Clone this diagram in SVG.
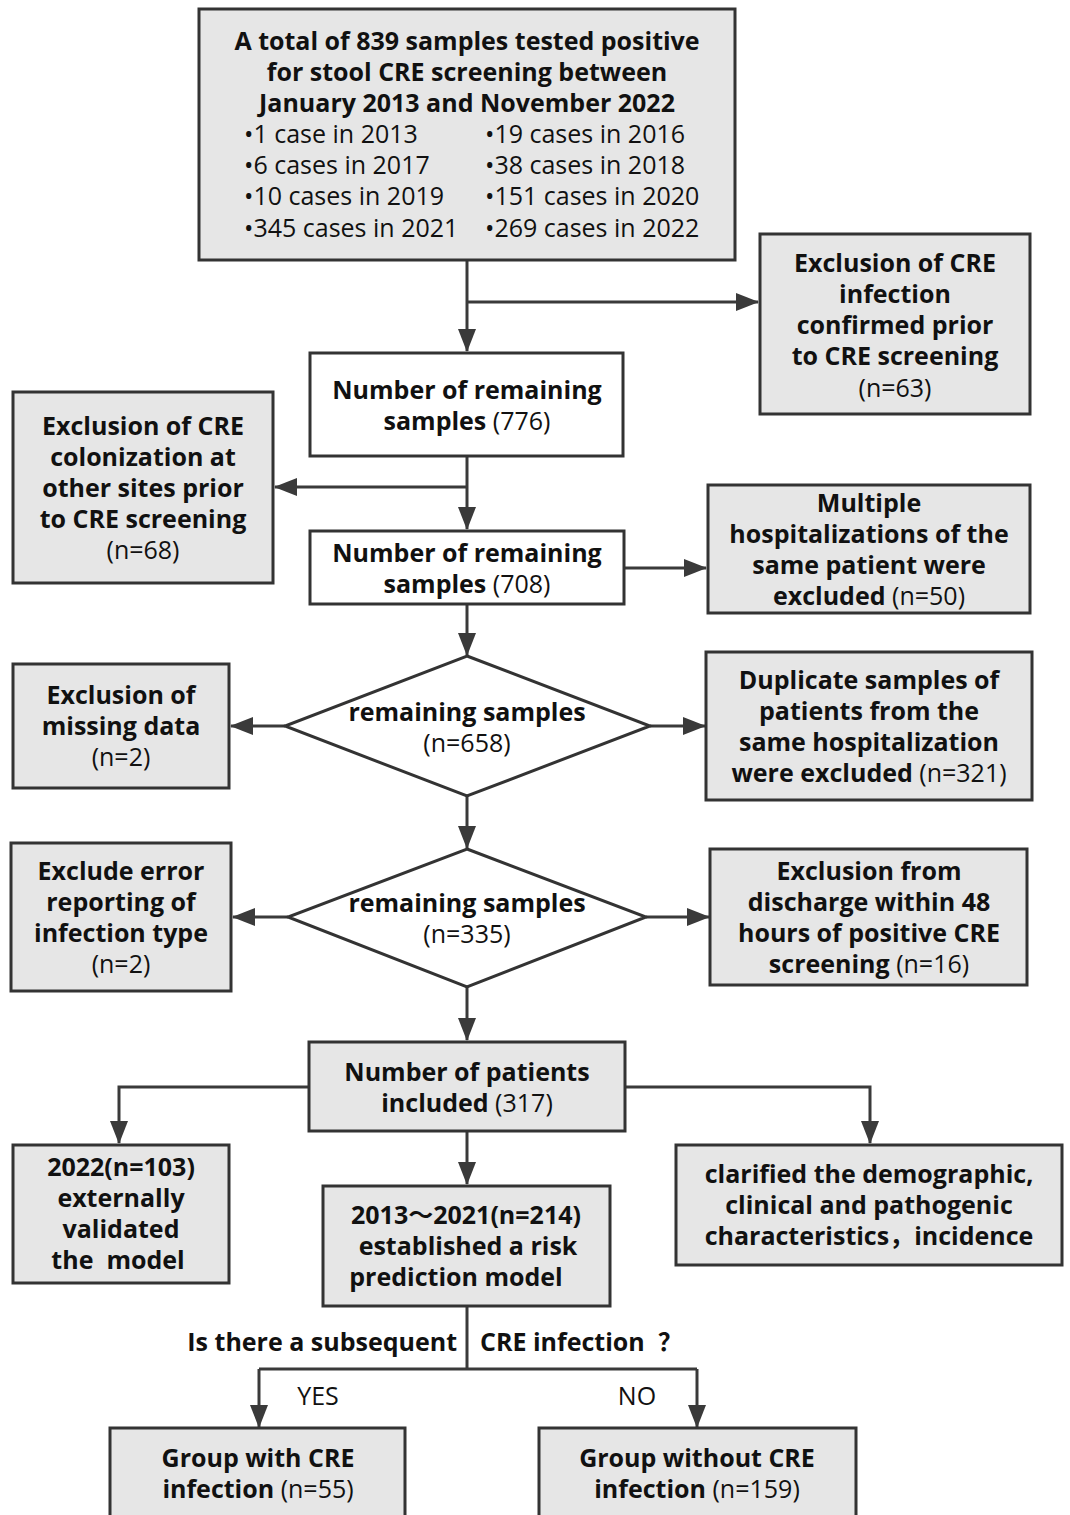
<svg xmlns="http://www.w3.org/2000/svg" width="1070" height="1515" viewBox="0 0 1070 1515">
<defs>
<marker id="ah" markerUnits="userSpaceOnUse" markerWidth="24" markerHeight="20" viewBox="0 0 24 20" refX="22" refY="10" orient="auto">
<path d="M0,1 L23,10 L0,19 Z" fill="#3a3a3a"/>
</marker>
<style>
text{font-family:"Open Sans","Noto Sans","Noto Sans CJK SC",sans-serif;font-size:25px;fill:#111;text-anchor:middle}
.b{font-weight:bold}
.r{font-weight:normal}
.l{text-anchor:start}
.g{fill:#e6e6e6;stroke:#333;stroke-width:3}
.w{fill:#fff;stroke:#333;stroke-width:3}
.c{fill:none;stroke:#3a3a3a;stroke-width:3}
</style>
</defs>
<rect width="1070" height="1515" fill="#fff"/>
<g id="connectors">
<path class="c" d="M467,260 V351" marker-end="url(#ah)"/>
<path class="c" d="M467,302 H758" marker-end="url(#ah)"/>
<path class="c" d="M467,456 V529" marker-end="url(#ah)"/>
<path class="c" d="M467,487 H275" marker-end="url(#ah)"/>
<path class="c" d="M624,568 H706" marker-end="url(#ah)"/>
<path class="c" d="M467,604 V655" marker-end="url(#ah)"/>
<path class="c" d="M285,726 H231" marker-end="url(#ah)"/>
<path class="c" d="M650,726 H705" marker-end="url(#ah)"/>
<path class="c" d="M467,796 V848" marker-end="url(#ah)"/>
<path class="c" d="M288,917 H233" marker-end="url(#ah)"/>
<path class="c" d="M646,917 H709" marker-end="url(#ah)"/>
<path class="c" d="M467,987 V1040" marker-end="url(#ah)"/>
<path class="c" d="M309,1087 H119 V1143" marker-end="url(#ah)"/>
<path class="c" d="M625,1087 H870 V1143" marker-end="url(#ah)"/>
<path class="c" d="M467,1131 V1184" marker-end="url(#ah)"/>
<path class="c" d="M467,1306 V1369 M259,1369 H697"/>
<path class="c" d="M259,1369 V1427" marker-end="url(#ah)"/>
<path class="c" d="M697,1369 V1427" marker-end="url(#ah)"/>
</g>
<g id="n-total">
<rect class="g" x="199" y="9" width="536" height="251"/>
<text class="b" x="467" y="50">A total of 839 samples tested positive</text>
<text class="b" x="467" y="81">for stool CRE screening between</text>
<text class="b" x="467" y="112">January 2013 and November 2022</text>
<text class="l" x="244" y="143">•1 case in 2013</text>
<text class="l" x="485" y="143">•19 cases in 2016</text>
<text class="l" x="244" y="174">•6 cases in 2017</text>
<text class="l" x="485" y="174">•38 cases in 2018</text>
<text class="l" x="244" y="205">•10 cases in 2019</text>
<text class="l" x="485" y="205">•151 cases in 2020</text>
<text class="l" x="244" y="237">•345 cases in 2021</text>
<text class="l" x="485" y="237">•269 cases in 2022</text>
</g>
<g id="n-excl63">
<rect class="g" x="760" y="234" width="270" height="180"/>
<text class="b" x="895" y="272">Exclusion of CRE</text>
<text class="b" x="895" y="303">infection</text>
<text class="b" x="895" y="334">confirmed prior</text>
<text class="b" x="895" y="365">to CRE screening</text>
<text x="895" y="397">(n=63)</text>
</g>
<g id="n-776">
<rect class="w" x="310" y="353" width="313" height="103"/>
<text class="b" x="467" y="399">Number of remaining</text>
<text x="467" y="430"><tspan class="b">samples</tspan> (776)</text>
</g>
<g id="n-excl68">
<rect class="g" x="13" y="392" width="260" height="191"/>
<text class="b" x="143" y="435">Exclusion of CRE</text>
<text class="b" x="143" y="466">colonization at</text>
<text class="b" x="143" y="497">other sites prior</text>
<text class="b" x="143" y="528">to CRE screening</text>
<text x="143" y="559">(n=68)</text>
</g>
<g id="n-708">
<rect class="w" x="310" y="531" width="314" height="73"/>
<text class="b" x="467" y="562">Number of remaining</text>
<text x="467" y="593"><tspan class="b">samples</tspan> (708)</text>
</g>
<g id="n-excl50">
<rect class="g" x="708" y="485" width="322" height="128"/>
<text class="b" x="869" y="512">Multiple</text>
<text class="b" x="869" y="543">hospitalizations of the</text>
<text class="b" x="869" y="574">same patient were</text>
<text x="869" y="605"><tspan class="b">excluded</tspan> (n=50)</text>
</g>
<g id="n-658">
<polygon class="w" points="467,656 650,726 467,796 285,726"/>
<text class="b" x="467" y="721">remaining samples</text>
<text x="467" y="752">(n=658)</text>
</g>
<g id="n-missing">
<rect class="g" x="13" y="664" width="216" height="124"/>
<text class="b" x="121" y="704">Exclusion of</text>
<text class="b" x="121" y="735">missing data</text>
<text x="121" y="766">(n=2)</text>
</g>
<g id="n-excl321">
<rect class="g" x="706" y="652" width="326" height="148"/>
<text class="b" x="869" y="689">Duplicate samples of</text>
<text class="b" x="869" y="720">patients from the</text>
<text class="b" x="869" y="751">same hospitalization</text>
<text x="869" y="782"><tspan class="b">were excluded</tspan> (n=321)</text>
</g>
<g id="n-335">
<polygon class="w" points="467,849 646,917 467,987 288,917"/>
<text class="b" x="467" y="912">remaining samples</text>
<text x="467" y="943">(n=335)</text>
</g>
<g id="n-error">
<rect class="g" x="11" y="843" width="220" height="148"/>
<text class="b" x="121" y="880">Exclude error</text>
<text class="b" x="121" y="911">reporting of</text>
<text class="b" x="121" y="942">infection type</text>
<text x="121" y="973">(n=2)</text>
</g>
<g id="n-excl16">
<rect class="g" x="710" y="849" width="317" height="136"/>
<text class="b" x="869" y="880">Exclusion from</text>
<text class="b" x="869" y="911">discharge within 48</text>
<text class="b" x="869" y="942">hours of positive CRE</text>
<text x="869" y="973"><tspan class="b">screening</tspan> (n=16)</text>
</g>
<g id="n-317">
<rect class="g" x="309" y="1042" width="316" height="89"/>
<text class="b" x="467" y="1081">Number of patients</text>
<text x="467" y="1112"><tspan class="b">included</tspan> (317)</text>
</g>
<g id="n-2022">
<rect class="g" x="13" y="1145" width="216" height="138"/>
<text class="b" x="121" y="1176">2022(n=103)</text>
<text class="b" x="121" y="1207">externally</text>
<text class="b" x="121" y="1238">validated</text>
<text class="b" x="118" y="1269">the&#160; model</text>
</g>
<g id="n-2013">
<rect class="g" x="323" y="1186" width="287" height="120"/>
<text class="b" x="466" y="1224">2013～2021(n=214)</text>
<text class="b" x="468" y="1255">established a risk</text>
<text class="b" x="456" y="1286">prediction model</text>
</g>
<g id="n-demo">
<rect class="g" x="676" y="1145" width="386" height="120"/>
<text class="b" x="869" y="1183">clarified the demographic,</text>
<text class="b" x="869" y="1214">clinical and pathogenic</text>
<text class="b" x="869" y="1245">characteristics，incidence</text>
</g>
<g id="labels">
<text class="b" x="457" y="1351" style="text-anchor:end">Is there a subsequent</text>
<text class="b l" x="480" y="1351">CRE infection&#160; ？</text>
<text x="318" y="1405">YES</text>
<text x="637" y="1405">NO</text>
</g>
<g id="n-with">
<rect class="g" x="110" y="1428" width="295" height="95"/>
<text class="b" x="258" y="1467">Group with CRE</text>
<text x="258" y="1498"><tspan class="b">infection</tspan> (n=55)</text>
</g>
<g id="n-without">
<rect class="g" x="539" y="1428" width="317" height="95"/>
<text class="b" x="697" y="1467">Group without CRE</text>
<text x="697" y="1498"><tspan class="b">infection</tspan> (n=159)</text>
</g>
</svg>
